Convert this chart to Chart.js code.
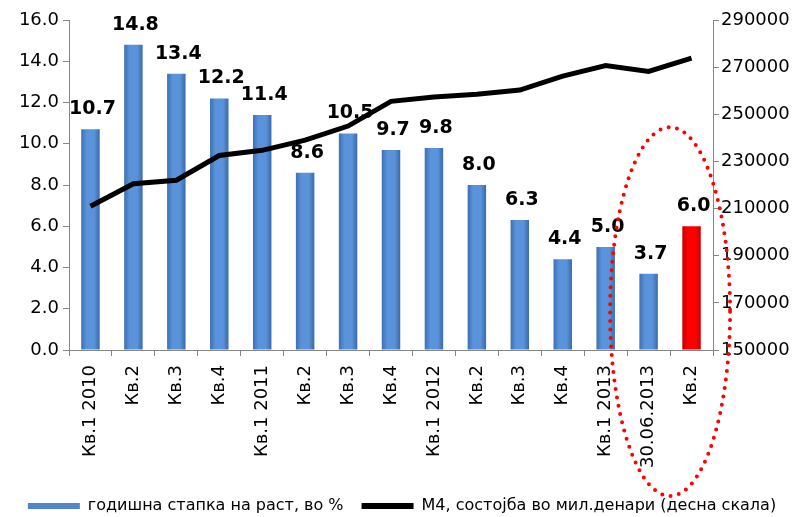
<!DOCTYPE html>
<html>
<head>
<meta charset="utf-8">
<script src="https://cdn.jsdelivr.net/npm/chart.js@4.4.1/dist/chart.umd.min.js"></script>
<style>
  html, body { margin: 0; padding: 0; background: #fff; }
  #wrap { width: 806px; height: 517px; }
</style>
</head>
<body>
<div id="wrap"><canvas id="growth" width="806" height="517"></canvas></div>
<script>
var labels = ["Кв.1 2010", "Кв.2", "Кв.3", "Кв.4", "Кв.1 2011", "Кв.2", "Кв.3", "Кв.4",
              "Кв.1 2012", "Кв.2", "Кв.3", "Кв.4", "Кв.1 2013", "30.06.2013", "Кв.2"];
var growthRate = [10.7, 14.8, 13.4, 12.2, 11.4, 8.6, 10.5, 9.7, 9.8, 8.0, 6.3, 4.4, 5.0, 3.7, 6.0];
var m4Stock = [211000, 220500, 222000, 232500, 234700, 239000, 245000, 255500,
               257300, 258500, 260300, 266200, 270700, 268200, 273800];
var highlightIndex = 14;

var barLabel = "годишна стапка на раст, во %";
var lineLabel = "М4, состојба во мил.денари (десна скала)";

var tickFont = { family: "DejaVu Sans", size: 18 };
var axisGray = "#868686";

function barFill(c) {
  var chart = c.chart;
  var xs = chart.scales.x;
  var red = c.dataIndex === highlightIndex;
  var flat = red ? "#ff0000" : "#4f86cf";
  if (c.type !== "data" || !xs) return flat;
  var cx = xs.getPixelForValue(c.dataIndex);
  var w = xs.width / labels.length * 0.43;
  if (!isFinite(cx) || !isFinite(w) || w <= 0) return flat;
  var g = chart.ctx.createLinearGradient(cx - w / 2, 0, cx + w / 2, 0);
  if (red) {
    g.addColorStop(0, "#c80000");
    g.addColorStop(0.3, "#ff0000");
    g.addColorStop(0.7, "#ff0000");
    g.addColorStop(1, "#c80000");
  } else {
    g.addColorStop(0, "#3d6fb3");
    g.addColorStop(0.3, "#5a93da");
    g.addColorStop(0.7, "#5a93da");
    g.addColorStop(1, "#3a69ab");
  }
  return g;
}

// bold value labels above the bars
var valueLabels = {
  id: "valueLabels",
  afterDatasetsDraw: function(chart) {
    var ctx = chart.ctx;
    var meta = chart.getDatasetMeta(1);
    ctx.save();
    ctx.font = "bold 19px 'DejaVu Sans'";
    ctx.fillStyle = "#000";
    ctx.textAlign = "center";
    ctx.textBaseline = "alphabetic";
    meta.data.forEach(function(bar, i) {
      ctx.fillText(growthRate[i].toFixed(1), bar.x + 2, bar.y - 15);
    });
    ctx.restore();
  }
};

// red dotted ellipse round the last two quarters
var highlightRing = {
  id: "highlightRing",
  afterDraw: function(chart) {
    var xs = chart.scales.x, ys = chart.scales.y;
    var cx = (xs.getPixelForValue(highlightIndex - 1) + xs.getPixelForValue(highlightIndex)) / 2;
    var top = ys.getPixelForValue(10.8);
    var bottom = chart.chartArea.bottom + 146;
    var ctx = chart.ctx;
    ctx.save();
    ctx.strokeStyle = "#ff0000";
    ctx.lineWidth = 4;
    ctx.lineCap = "round";
    ctx.setLineDash([0, 8.5]);
    ctx.beginPath();
    ctx.ellipse(cx, (top + bottom) / 2, 60, (bottom - top) / 2, 0, 0, Math.PI * 2);
    ctx.stroke();
    ctx.restore();
  }
};

var chart = new Chart(document.getElementById("growth"), {
  data: {
    labels: labels,
    datasets: [
      {
        type: "line",
        label: lineLabel,
        data: m4Stock,
        yAxisID: "y1",
        borderColor: "#000",
        backgroundColor: "#000",
        borderWidth: 5,
        pointRadius: 0,
        tension: 0,
        order: 0
      },
      {
        type: "bar",
        label: barLabel,
        data: growthRate,
        yAxisID: "y",
        backgroundColor: barFill,
        barPercentage: 0.43,
        categoryPercentage: 1,
        order: 1
      }
    ]
  },
  options: {
    responsive: false,
    animation: false,
    layout: { padding: { top: 20, right: 2, left: 0, bottom: -7 } },
    scales: {
      x: {
        offset: true,
        grid: { drawOnChartArea: false, tickLength: 6, color: axisGray, offset: true },
        border: { color: axisGray },
        ticks: { font: tickFont, color: "#000", maxRotation: 90, minRotation: 90, autoSkip: false, padding: 9 },
        afterFit: function(s) { s.height = 130; }
      },
      y: {
        position: "left",
        min: 0, max: 16,
        grid: { drawOnChartArea: false, tickLength: 6, color: axisGray },
        border: { color: axisGray },
        ticks: { stepSize: 2, font: tickFont, color: "#000", padding: 4,
                 callback: function(v) { return v.toFixed(1); } },
        afterFit: function(s) { s.width = 69; }
      },
      y1: {
        position: "right",
        min: 150000, max: 290000,
        grid: { drawOnChartArea: false, tickLength: 6, color: axisGray },
        border: { color: axisGray },
        ticks: { stepSize: 20000, font: tickFont, color: "#000", padding: 2,
                 callback: function(v) { return String(v); } },
        afterFit: function(s) { s.width = 91; }
      }
    },
    plugins: {
      tooltip: { enabled: false },
      legend: {
        position: "bottom",
        reverse: true,
        labels: {
          font: { family: "DejaVu Sans", size: 16 },
          color: "#000",
          boxWidth: 52,
          boxHeight: 6,
          padding: 18,
          generateLabels: function(ch) {
            var items = Chart.defaults.plugins.legend.labels.generateLabels(ch);
            items.forEach(function(it) {
              it.lineWidth = 0;
              it.fillStyle = it.datasetIndex === 1 ? "#4f86cf" : "#000";
            });
            return items;
          }
        }
      }
    }
  },
  plugins: [valueLabels, highlightRing]
});
</script>
</body>
</html>
